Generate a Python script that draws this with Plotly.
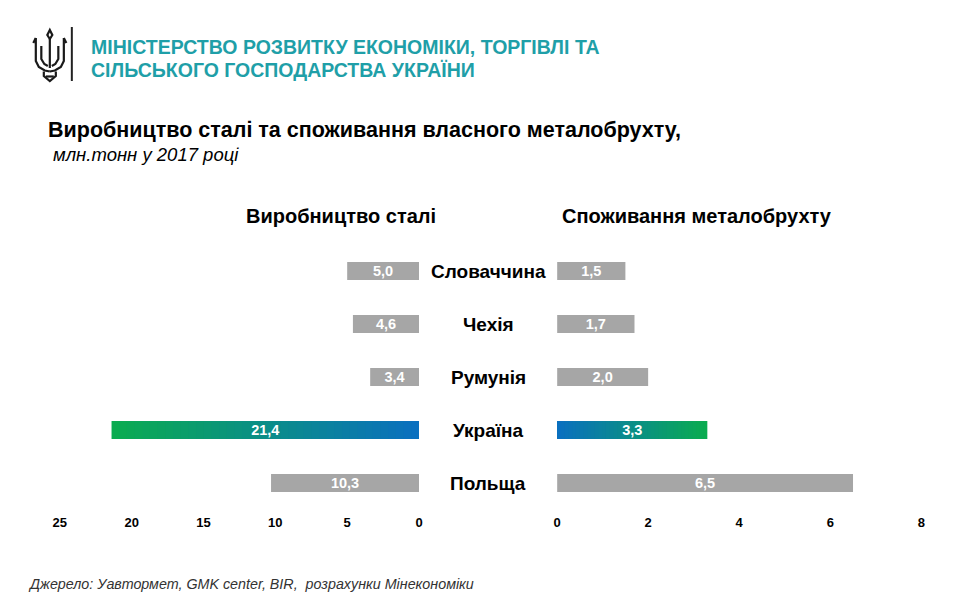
import plotly.graph_objects as go

# ---------------- data ----------------
countries = ["Словаччина", "Чехія", "Румунія", "Україна", "Польща"]
steel_production = [5.0, 4.6, 3.4, 21.4, 10.3]      # млн.тонн
scrap_consumption = [1.5, 1.7, 2.0, 3.3, 6.5]       # млн.тонн
highlight = "Україна"
left_ticks = [25, 20, 15, 10, 5, 0]
right_ticks = [0, 2, 4, 6, 8]

header_line1 = "МІНІСТЕРСТВО РОЗВИТКУ ЕКОНОМІКИ, ТОРГІВЛІ ТА"
header_line2 = "СІЛЬСЬКОГО ГОСПОДАРСТВА УКРАЇНИ"
title = "Виробництво сталі та споживання власного металобрухту,"
subtitle = "млн.тонн у 2017 році"
left_title = "Виробництво сталі"
right_title = "Споживання металобрухту"
source = "Джерело: Уавтормет, GMK center, BIR,  розрахунки Мінекономіки"

# ---------------- style ----------------
W, H = 960, 610
FONT = "Liberation Sans, Arial, Helvetica, sans-serif"
GRAY = "#a6a6a6"
TEAL = "#1f9fa8"
BLUE = (10, 111, 192)
GREEN = (10, 172, 79)
N_GRAD = 40
BAR_W = 0.34
X_OFF, X_SCALE = 7.2, 0.988   # compensation for horizontal placement in the photographed page


def px(x):
    return ((x - X_OFF) / X_SCALE) / W


def py(y):
    return 1 - y / H


def fmt(v):
    return f"{v:.1f}".replace(".", ",")


def mix(t):
    return "rgb({},{},{})".format(*[round(BLUE[k] + (GREEN[k] - BLUE[k]) * t) for k in range(3)])


fig = go.Figure()


def add_panel(values, xa):
    gray_y = [c for c in countries if c != highlight]
    gray_x = [v for c, v in zip(countries, values) if c != highlight]
    fig.add_trace(go.Bar(
        x=gray_x, y=gray_y, orientation="h", xaxis=xa, yaxis="y",
        marker=dict(color=GRAY, line=dict(width=0)), width=BAR_W,
        hoverinfo="skip", showlegend=False))
    hv = values[countries.index(highlight)]
    # gradient: nested bars, longest (green end) first, shortest (blue) last
    gx = [hv * (N_GRAD - i) / N_GRAD for i in range(N_GRAD)]
    gc = [mix((N_GRAD - i - 0.5) / N_GRAD) for i in range(N_GRAD)]
    fig.add_trace(go.Bar(
        x=gx, y=[highlight] * N_GRAD, orientation="h", xaxis=xa, yaxis="y",
        marker=dict(color=gc, line=dict(width=0)), width=BAR_W,
        hoverinfo="skip", showlegend=False))
    fig.add_trace(go.Bar(
        x=values, y=countries, orientation="h", xaxis=xa, yaxis="y",
        marker=dict(color="rgba(0,0,0,0)", line=dict(width=0)), width=BAR_W,
        text=[f"<b>{fmt(v)}</b>" for v in values], textposition="inside",
        insidetextanchor="middle", constraintext="none",
        textfont=dict(color="white", size=14.5, family=FONT),
        hoverinfo="skip", showlegend=False))


add_panel(steel_production, "x")
add_panel(scrap_consumption, "x2")

axis_common = dict(showgrid=False, zeroline=False, showline=False,
                   ticks="outside", ticklen=1, tickcolor="rgba(0,0,0,0)",
                   tickfont=dict(family=FONT, size=13, color="black"),
                   fixedrange=True)

fig.update_layout(
    width=W, height=H,
    margin=dict(l=0, r=0, t=0, b=0),
    paper_bgcolor="white", plot_bgcolor="white",
    barmode="overlay",
    font=dict(family=FONT, color="black"),
    xaxis=dict(domain=[px(60), px(419)], range=[25, 0], anchor="y",
               tickvals=left_ticks, ticktext=[f"<b>{t}</b>" for t in left_ticks],
               **axis_common),
    xaxis2=dict(domain=[px(557), px(921)], range=[0, 8], anchor="y",
                tickvals=right_ticks, ticktext=[f"<b>{t}</b>" for t in right_ticks],
                **axis_common),
    yaxis=dict(domain=[py(509.5), py(244.5)], range=[4.5, -0.5],
               type="category", categoryorder="array", categoryarray=countries,
               showticklabels=False, showgrid=False, zeroline=False,
               showline=False, fixedrange=True),
)

ann = []
for c in countries:
    ann.append(dict(x=px(488), xref="paper", y=c, yref="y", text=f"<b>{c}</b>",
                    showarrow=False, xanchor="center", yanchor="middle",
                    font=dict(family=FONT, size=19, color="black")))
ann += [
    dict(x=px(341), y=py(216), text=f"<b>{left_title}</b>", xanchor="center",
         font=dict(family=FONT, size=20, color="black")),
    dict(x=px(697), y=py(216), text=f"<b>{right_title}</b>", xanchor="center",
         font=dict(family=FONT, size=20, color="black")),
    dict(x=px(89), y=py(47), text=f"<b>{header_line1}</b>", xanchor="left",
         font=dict(family=FONT, size=19.5, color=TEAL)),
    dict(x=px(89), y=py(70), text=f"<b>{header_line2}</b>", xanchor="left",
         font=dict(family=FONT, size=19.5, color=TEAL)),
    dict(x=px(46), y=py(130), text=f"<b>{title}</b>", xanchor="left",
         font=dict(family=FONT, size=21.5, color="black")),
    dict(x=px(51), y=py(155), text=f"<i>{subtitle}</i>", xanchor="left",
         font=dict(family=FONT, size=18.5, color="black")),
    dict(x=px(26), y=py(584), text=f"<i>{source}</i>", xanchor="left",
         font=dict(family=FONT, size=14.3, color="#333333")),
]
for a in ann:
    a.setdefault("xref", "paper")
    a.setdefault("yref", "paper")
    a.setdefault("showarrow", False)
    a.setdefault("yanchor", "middle")
fig.update_layout(annotations=ann)


# ---- trident logo (decorative, drawn as a path) ----
def path(points, close=False):
    s = "M " + " L ".join(f"{px(x):.5f},{py(y):.5f}" for x, y in points)
    return s + (" Z" if close else "")


logo_paths = [
    path([(50, 30), (47.5, 35), (50, 39), (52.5, 35)], close=True),       # centre tip
    path([(50, 39), (50, 68)]),                                            # centre prong
    path([(36, 38), (36, 61), (39, 67), (45, 70.5), (50, 71.5)]),          # left outer
    path([(64, 38), (64, 61), (61, 67), (55, 70.5), (50, 71.5)]),          # right outer
    path([(36, 38), (33.5, 43)]),
    path([(64, 38), (66.5, 43)]),
    path([(41.5, 46), (41.5, 59), (44.5, 64), (48, 66)]),                  # left inner
    path([(58.5, 46), (58.5, 59), (55.5, 64), (52, 66)]),                  # right inner
    path([(44, 71.5), (44, 76), (50, 81), (56, 76), (56, 71.5)]),          # base
    path([(46, 76.5), (54, 76.5)]),
]
shapes = [dict(type="path", xref="paper", yref="paper", path=p,
               line=dict(color="#1a1a1a", width=2.2)) for p in logo_paths]
shapes.append(dict(type="line", xref="paper", yref="paper",
                   x0=px(72), x1=px(72), y0=py(27), y1=py(81),
                   line=dict(color="#222222", width=2)))
fig.update_layout(shapes=shapes)

fig.write_html(
    "out.html",
    config={"displayModeBar": False},
    post_script="document.body.style.margin='0';document.body.style.overflow='hidden';",
)
